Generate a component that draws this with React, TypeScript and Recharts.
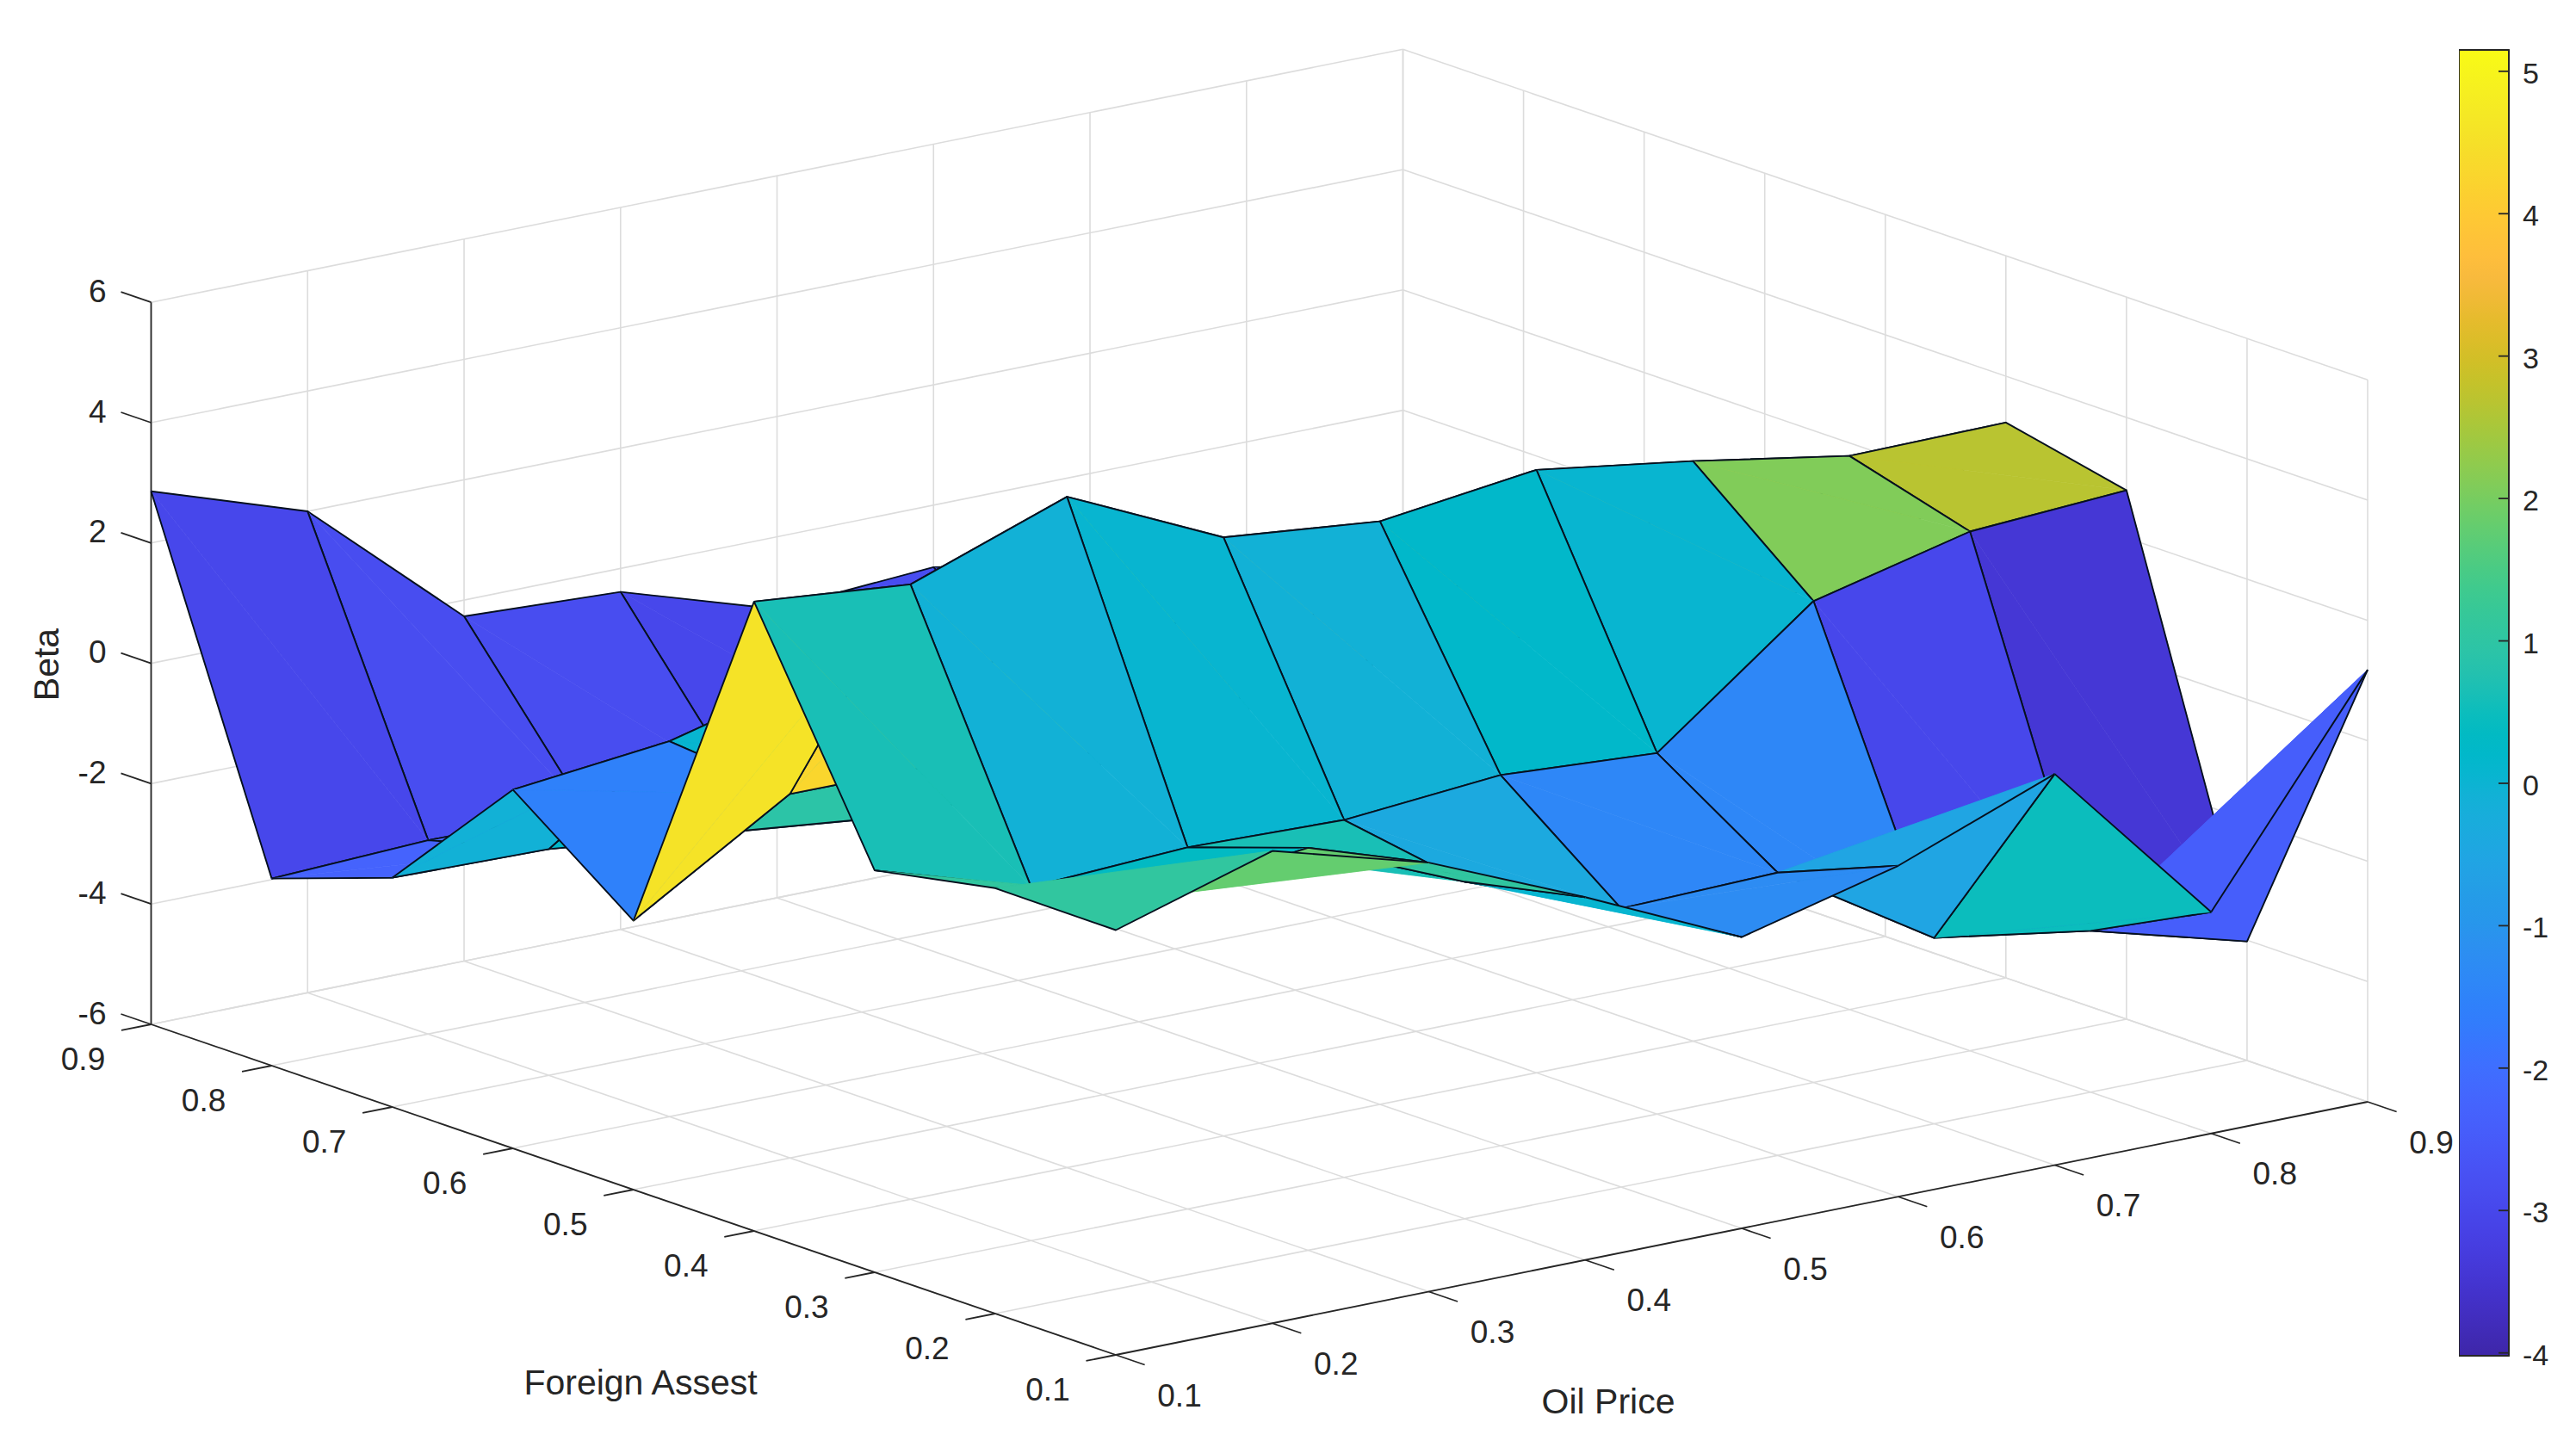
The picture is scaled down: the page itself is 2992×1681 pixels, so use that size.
import { ReactElement } from "react";
import {
  ComposedChart,
  ScatterChart,
  Scatter,
  Area,
  XAxis,
  YAxis,
  ReferenceArea,
} from "recharts";

const oilPrice = [0.1, 0.2, 0.3, 0.4, 0.5, 0.6, 0.7, 0.8, 0.9];
const foreignAsset = [0.1, 0.2, 0.3, 0.4, 0.5, 0.6, 0.7, 0.8, 0.9];
const betaTicks = [-6, -4, -2, 0, 2, 4, 6];
const colorbarTicks = [-4, -3, -2, -1, 0, 1, 2, 3, 4, 5];

// beta per foreign asset level, left to right along oil price
const betaFa01 = [1.06, 1.85, 1.13, 0.03, -1.16, -0.5, 0.5, -2.32, 1.18];
const betaFa02 = [1.07, 0.4, 0.69, -0.4, -1.37, -1.3, -2.91, -3.32, -4.02];
const betaFa03 = [0.68, -0.12, 0.01, -0.06, 0.16, 0, 2.0, 2.63, 2.79];
const betaFa04 = [4.46, 4.22, 5.15, 3.95, 3.69, 4.02, 3.64, 3.2, 3.23];
const betaFa05 = [-1.53, 0.05, 0.04, -0.3, 0.2, 0.4, 0.1, -0.2, 0.3];
const betaFa06 = [-0.04, 0.24, 0.9, 1.0, 0.5, 0.6, 0.2, 0.3, -0.1];
const betaFa07 = [-2.19, -2.24, -2.52, -2.8, -2.9, -2.5, -2, -1.8, -1.5];
const betaFa08 = [-2.89, -2.78, -2.8, -2.94, -2.8, -2.6, -2.4, -2.2, -2];
const betaFa09 = [2.86, 2.0, -0.27, -0.39, -1.2, -1.03, -1.5, -2, -2];
const betaRows = [betaFa01, betaFa02, betaFa03, betaFa04, betaFa05, betaFa06, betaFa07, betaFa08, betaFa09];

const colorMin = -4.02;
const colorMax = 5.15;
const colorbarSpan = [
  { x: 0, range: [colorMin, colorMax] },
  { x: 1, range: [colorMin, colorMax] },
];

// parula, 64 levels
const parula = [
  [0.2422, 0.1504, 0.6603], [0.2504, 0.165, 0.7076], [0.2578, 0.1818, 0.7511], [0.2647, 0.1978, 0.7952],
  [0.2706, 0.2147, 0.8364], [0.2751, 0.2342, 0.871], [0.2783, 0.2559, 0.8991], [0.2803, 0.2782, 0.9221],
  [0.2813, 0.3006, 0.9414], [0.281, 0.3228, 0.9579], [0.2795, 0.3447, 0.9717], [0.276, 0.3667, 0.9829],
  [0.2699, 0.3892, 0.9906], [0.2602, 0.4123, 0.9952], [0.244, 0.4358, 0.9988], [0.2206, 0.4603, 0.9973],
  [0.1963, 0.4847, 0.9892], [0.1834, 0.5074, 0.9798], [0.1786, 0.5289, 0.9682], [0.1764, 0.5499, 0.952],
  [0.1687, 0.5703, 0.9359], [0.154, 0.5902, 0.9218], [0.146, 0.6091, 0.9079], [0.138, 0.6276, 0.8973],
  [0.1248, 0.6459, 0.8883], [0.1113, 0.6635, 0.8763], [0.0952, 0.6798, 0.8598], [0.0689, 0.6948, 0.8394],
  [0.0297, 0.7082, 0.8163], [0.0036, 0.7203, 0.7917], [0.0067, 0.7312, 0.766], [0.0433, 0.7411, 0.7394],
  [0.0964, 0.75, 0.712], [0.1408, 0.7584, 0.6842], [0.1717, 0.767, 0.6554], [0.1938, 0.7758, 0.6251],
  [0.2161, 0.7843, 0.5923], [0.247, 0.7918, 0.5567], [0.2906, 0.7973, 0.5188], [0.3406, 0.8008, 0.4789],
  [0.3909, 0.8029, 0.4354], [0.4456, 0.8024, 0.3909], [0.5044, 0.7993, 0.348], [0.5616, 0.7942, 0.3045],
  [0.6174, 0.7876, 0.2612], [0.672, 0.7793, 0.2227], [0.7242, 0.7698, 0.191], [0.7738, 0.7598, 0.1646],
  [0.8203, 0.7498, 0.1535], [0.8634, 0.7406, 0.1596], [0.9035, 0.733, 0.1774], [0.9393, 0.7288, 0.21],
  [0.9728, 0.7298, 0.2394], [0.9956, 0.7434, 0.2371], [0.997, 0.7659, 0.2199], [0.9952, 0.7893, 0.2028],
  [0.9892, 0.8136, 0.1885], [0.9786, 0.8386, 0.1766], [0.9676, 0.8639, 0.1643], [0.961, 0.889, 0.1537],
  [0.9597, 0.9135, 0.1423], [0.9628, 0.9373, 0.1265], [0.9691, 0.9606, 0.1064], [0.9769, 0.9839, 0.0805],
];

const toRgb = (c: number[]) =>
  `rgb(${Math.round(c[0] * 255)},${Math.round(c[1] * 255)},${Math.round(c[2] * 255)})`;

const colorOf = (z: number) => {
  const t = (z - colorMin) / (colorMax - colorMin);
  const i = Math.max(0, Math.min(63, Math.floor(t * 64)));
  return toRgb(parula[i]);
};

const WIDTH = 2992;
const HEIGHT = 1681;
const FONT = "'Liberation Sans', Arial, sans-serif";
const TEXT = "#262626";
const GRID = "#dcdcdc";
const EDGE = "#06101e";

// orthographic view of the MATLAB axes, in picture units
const project = (oil: number, fa: number, z: number) => {
  const o = (oil - 0.1) * 10;
  const f = (fa - 0.1) * 10;
  return {
    x: 1296 + o * 181.75 - f * 140.06,
    y: 1574 - o * 36.75 - f * 48 - (z + 6) * 69.9,
  };
};

const NoDot = () => null;

type Pt = { x: number; y: number };

const seg = (a: Pt, b: Pt) => [a, b];

// floor and the two back walls
const gridLines: Pt[][] = [
  ...foreignAsset.map((fa) => seg(project(0.1, fa, -6), project(0.9, fa, -6))),
  ...oilPrice.map((oil) => seg(project(oil, 0.1, -6), project(oil, 0.9, -6))),
  ...oilPrice.map((oil) => seg(project(oil, 0.9, -6), project(oil, 0.9, 6))),
  ...foreignAsset.map((fa) => seg(project(0.9, fa, -6), project(0.9, fa, 6))),
  ...betaTicks.map((z) => seg(project(0.1, 0.9, z), project(0.9, 0.9, z))),
  ...betaTicks.map((z) => seg(project(0.9, 0.1, z), project(0.9, 0.9, z))),
];

const axisLines: Pt[][] = [
  seg(project(0.1, 0.9, -6), project(0.1, 0.9, 6)),
  seg(project(0.1, 0.9, -6), project(0.1, 0.1, -6)),
  seg(project(0.1, 0.1, -6), project(0.9, 0.1, -6)),
  ...betaTicks.map((z) => seg(project(0.1, 0.9, z), project(0.1, 0.925, z))),
  ...foreignAsset.map((fa) => seg(project(0.1, fa, -6), project(0.081, fa, -6))),
  ...oilPrice.map((oil) => seg(project(oil, 0.1, -6), project(oil, 0.076, -6))),
];

// one quad per grid cell, far cells first so nearer ones paint over them
type Patch = { color: string; corners: Pt[]; key: string };
const patches: Patch[] = [];
for (let f = foreignAsset.length - 2; f >= 0; f--) {
  for (let o = oilPrice.length - 2; o >= 0; o--) {
    patches.push({
      key: `${f}-${o}`,
      color: colorOf(betaRows[f][o]),
      corners: [
        project(oilPrice[o], foreignAsset[f], betaRows[f][o]),
        project(oilPrice[o + 1], foreignAsset[f], betaRows[f][o + 1]),
        project(oilPrice[o + 1], foreignAsset[f + 1], betaRows[f + 1][o + 1]),
        project(oilPrice[o], foreignAsset[f + 1], betaRows[f + 1][o]),
      ],
    });
  }
}

const pts = (list: Pt[]) => list.map((p) => `${p.x},${p.y}`).join(" ");

// two triangles split on the 1-3 diagonal, far one first; the diagonal has no outline
const faceRenderer = (color: string) => (props: any): ReactElement => {
  const p: Pt[] = props.points;
  const edge = { fill: "none", stroke: EDGE, strokeWidth: 1.9, strokeLinejoin: "round" as const };
  return (
    <g>
      <polygon points={pts([p[1], p[2], p[3]])} fill={color} stroke={color} strokeWidth={0.6} />
      <polyline points={pts([p[1], p[2], p[3]])} {...edge} />
      <polygon points={pts([p[0], p[1], p[3]])} fill={color} stroke={color} strokeWidth={0.6} />
      <polyline points={pts([p[3], p[0], p[1]])} {...edge} />
    </g>
  );
};

const tickLabel = (fontSize: number, anchor: string) => (props: any) => (
  <text
    x={props.cx}
    y={props.cy}
    fontSize={fontSize}
    fontFamily={FONT}
    fill={TEXT}
    textAnchor={anchor}
    dominantBaseline="central"
  >
    {props.payload.label}
  </text>
);

const faLabels = foreignAsset.map((fa) => {
  const p = project(0.1, fa, -6);
  return { x: p.x - 79, y: p.y + 40, label: fa.toFixed(1) };
});
const oilLabels = oilPrice.map((oil) => {
  const p = project(oil, 0.1, -6);
  return { x: p.x + 74, y: p.y + 47, label: oil.toFixed(1) };
});
const betaLabels = betaTicks.map((z) => {
  const p = project(0.1, 0.9, z);
  return { x: p.x - 52, y: p.y - 13, label: String(z) };
});
const titleLabels = [
  { x: 744, y: 1606, label: "Foreign Assest" },
  { x: 1868, y: 1628, label: "Oil Price" },
];
const betaTitle = [{ x: 54, y: 772, label: "Beta" }];

const BetaTitle = (props: any) => (
  <text
    x={props.cx}
    y={props.cy}
    fontSize={41}
    fontFamily={FONT}
    fill={TEXT}
    textAnchor="middle"
    dominantBaseline="central"
    transform={`rotate(-90 ${props.cx} ${props.cy})`}
  >
    {props.payload.label}
  </text>
);

export default function App() {
  return (
    <div style={{ position: "absolute", left: 0, top: 0, width: WIDTH, height: HEIGHT, background: "#fff" }}>
      <div style={{ position: "absolute", left: 0, top: 0 }}>
        <ScatterChart width={WIDTH} height={HEIGHT} margin={{ top: 0, right: 0, bottom: 0, left: 0 }}>
          <XAxis type="number" dataKey="x" domain={[0, WIDTH]} hide />
          <YAxis type="number" dataKey="y" domain={[0, HEIGHT]} reversed hide />
          {gridLines.map((line, i) => (
            <Scatter
              key={`grid-${i}`}
              data={line}
              shape={NoDot}
              line={{ stroke: GRID, strokeWidth: 1.6 }}
              isAnimationActive={false}
            />
          ))}
          {axisLines.map((line, i) => (
            <Scatter
              key={`axis-${i}`}
              data={line}
              shape={NoDot}
              line={{ stroke: TEXT, strokeWidth: 1.8 }}
              isAnimationActive={false}
            />
          ))}
          {patches.map((patch) => (
            <Scatter
              key={patch.key}
              data={patch.corners}
              shape={NoDot}
              line={faceRenderer(patch.color)}
              isAnimationActive={false}
            />
          ))}
          <Scatter data={faLabels} shape={tickLabel(37, "middle")} isAnimationActive={false} />
          <Scatter data={oilLabels} shape={tickLabel(37, "middle")} isAnimationActive={false} />
          <Scatter data={betaLabels} shape={tickLabel(37, "end")} isAnimationActive={false} />
          <Scatter data={titleLabels} shape={tickLabel(41, "middle")} isAnimationActive={false} />
          <Scatter data={betaTitle} shape={BetaTitle} isAnimationActive={false} />
        </ScatterChart>
      </div>
      <div style={{ position: "absolute", left: 2856, top: 0 }}>
        <ComposedChart
          width={136}
          height={HEIGHT}
          data={colorbarSpan}
          margin={{ top: 58, right: 0, bottom: 106, left: 0 }}
        >
          <defs>
            <linearGradient id="parulaRamp" x1="0" y1="1" x2="0" y2="0">
              {parula.map((c, i) => (
                <stop key={i} offset={i / 63} stopColor={toRgb(c)} />
              ))}
            </linearGradient>
          </defs>
          <XAxis type="number" dataKey="x" domain={[0, 1]} hide />
          <YAxis
            orientation="right"
            type="number"
            width={78}
            domain={[colorMin, colorMax]}
            ticks={colorbarTicks}
            interval={0}
            allowDataOverflow
            tickSize={-12}
            tickMargin={28}
            axisLine={{ stroke: TEXT, strokeWidth: 1.8 }}
            tickLine={{ stroke: TEXT, strokeWidth: 1.8 }}
            tick={{ fontSize: 34, fontFamily: FONT, fill: TEXT, dy: 2 }}
          />
          <Area
            dataKey="range"
            type="linear"
            fill="url(#parulaRamp)"
            fillOpacity={1}
            stroke="none"
            isAnimationActive={false}
          />
          <ReferenceArea
            x1={0}
            x2={1}
            y1={colorMin}
            y2={colorMax}
            fill="none"
            stroke={TEXT}
            strokeWidth={1.8}
            ifOverflow="visible"
          />
        </ComposedChart>
      </div>
    </div>
  );
}
